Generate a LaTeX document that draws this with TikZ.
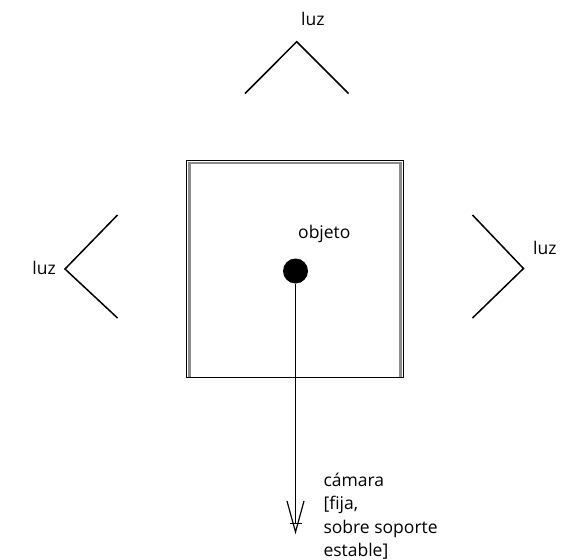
\documentclass[tikz,border=0pt]{standalone}
\usepackage{fontspec}
\setmainfont{Open Sans}
\begin{document}
\begin{tikzpicture}[x=1pt,y=-1pt,
  lamp/.style={line width=1.5pt, line join=miter},
  lbl/.style={font=\fontsize{17.5}{23.3}\selectfont, inner sep=0pt},
  frameouter/.style={line width=0.9pt, black},
  frameinner/.style={line width=2.8pt, black!45},
  shaft/.style={line width=1pt}]
\useasboundingbox (0,0) rectangle (563,560);
% frame (box)
\draw[frameinner] (189.5,377) -- (189.5,163) -- (400.5,163) -- (400.5,377);
\draw[frameouter] (186,377) -- (186,160) -- (403.5,160) -- (403.5,377);
\draw[frameouter] (186,377) -- (403.5,377);
% object
\node[circle, fill=black, minimum size=25pt, inner sep=0pt] (obj) at (295.5,271) {};
\node[lbl, anchor=base west] (objlbl) at (298,238) {objeto};
% camera arrow
\coordinate (cam) at (295.5,532);
\coordinate (bar) at (295.5,523);
\coordinate (tl) at (287,501);
\coordinate (tr) at (304,501);
\draw[shaft] (obj.south) -- (bar);
\draw[shaft] ([xshift=-6pt]bar) -- ([xshift=6pt]bar);
\draw[line width=1.2pt] (tl) -- (cam) -- (tr);
\node[lbl, anchor=base west, align=left] (camlbl) at (323.3,556.5) {cámara\\{[}fija,\\sobre soporte\\estable{]}};
% top light
\coordinate (ta) at (296.7,41.7);
\coordinate (t1) at (245,93.5);
\coordinate (t2) at (348.5,93.5);
\draw[lamp] (t1) -- (ta) -- (t2);
\node[lbl, anchor=base west] (toplbl) at (301,25) {luz};
% left light
\coordinate (la) at (65,269);
\coordinate (l1) at (117.5,215);
\coordinate (l2) at (117.5,318);
\draw[lamp] (l1) -- (la) -- (l2);
\node[lbl, anchor=base east] (leftlbl) at (56,274) {luz};
% right light
\coordinate (ra) at (523.5,268.5);
\coordinate (r1) at (472.5,215);
\coordinate (r2) at (472.5,318);
\draw[lamp] (r1) -- (ra) -- (r2);
\node[lbl, anchor=base west] (rightlbl) at (533,254) {luz};
\end{tikzpicture}
\end{document}
